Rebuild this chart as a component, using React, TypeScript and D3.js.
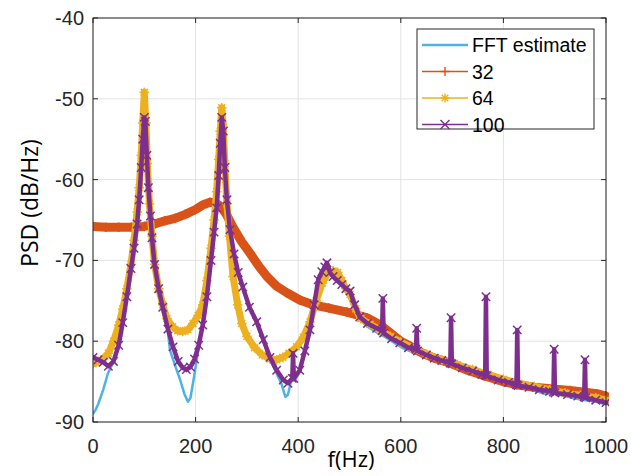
import React from 'react';
import * as d3 from 'd3';

const xTicks = [0, 200, 400, 600, 800, 1000];
const yTicks = [-90, -80, -70, -60, -50, -40];
const legendLabels = ['FFT estimate', '32', '64', '100'];

const fftFreq = [0, 5, 10, 20, 29, 38, 46, 58, 66, 74, 80, 86, 90, 94, 97, 100, 102, 105, 108, 112, 115, 120, 128, 136, 146, 150, 160, 170, 178, 185, 190, 197, 203, 210, 214, 222, 230, 236, 241, 245, 248, 251, 254, 257, 261, 267, 275, 283, 292, 305, 319, 332, 345, 358, 368, 375, 380, 386, 394, 403, 413, 423, 431, 439, 446, 456, 468, 485, 501, 520, 535, 553, 570, 590, 605, 620, 640, 660, 680, 700, 720, 740, 760, 780, 800, 820, 840, 860, 880, 900, 920, 940, 960, 980, 1000];
const fftPsd = [-89, -88.5, -87.8, -86, -84, -82.8, -81.5, -77.8, -74.6, -71.2, -68.6, -65.6, -62.6, -58.6, -55.2, -52.6, -53, -57.2, -61.2, -64.7, -67.3, -70.6, -73.7, -76, -78.8, -81.1, -83, -84.8, -86.5, -87.5, -87, -84.4, -82, -79.5, -78, -74.6, -70.1, -66.6, -63.6, -59.6, -55.6, -52.5, -54.2, -58.6, -62.6, -66.3, -69.3, -71.6, -73.4, -76, -77.8, -80, -82.3, -84, -85.4, -86.9, -86.6, -85, -84.8, -83.8, -81.4, -78.8, -75.7, -72.6, -71.6, -70.8, -72.2, -73.2, -74, -77.3, -78.2, -78.9, -79.5, -80.3, -80.9, -81.3, -81.8, -82.2, -82.8, -83.1, -83.6, -84, -84.5, -84.8, -85.2, -85.6, -85.8, -86.1, -86.5, -86.5, -86.8, -87.1, -87.3, -87.5, -87.8];

const ar32Freq = [0, 25, 50, 75, 100, 120, 140, 160, 180, 200, 215, 228, 240, 250, 260, 273, 290, 306, 322, 339, 358, 378, 403, 429, 460, 495, 534, 560, 580, 600, 618, 640, 665, 696, 730, 764, 800, 826, 860, 897, 930, 959, 982, 1000];
const ar32Psd = [-65.8, -65.9, -65.9, -65.9, -65.8, -65.5, -65.1, -64.8, -64.3, -63.7, -63.1, -62.8, -62.9, -63.4, -64.3, -65.9, -67.7, -69.1, -70.6, -72, -73.2, -74, -74.9, -75.5, -75.9, -76.4, -77.1, -78, -79, -80, -80.6, -81.4, -82.1, -82.7, -83.6, -84.3, -85, -85.4, -85.7, -85.9, -86.1, -86.3, -86.5, -86.8];

const ar64Freq = [0, 10, 20, 30, 40, 50, 58, 66, 74, 80, 86, 90, 94, 97, 100, 103, 106, 110, 115, 120, 128, 136, 144, 155, 165, 175, 185, 195, 205, 214, 222, 230, 236, 241, 245, 248, 251, 254, 257, 261, 266, 273, 282, 290, 300, 315, 330, 345, 358, 370, 382, 397, 410, 423, 435, 447, 458, 468, 477, 485, 493, 501, 512, 522, 540, 560, 580, 600, 625, 650, 680, 710, 740, 770, 800, 830, 860, 890, 920, 950, 980, 1000];
const ar64Psd = [-82.8, -82.5, -82.2, -81.5, -80, -78, -76, -73.5, -70.5, -67.5, -64, -61, -57, -53, -49.2, -53, -58, -63, -67, -70.5, -73.5, -75.5, -77.2, -78.2, -78.7, -78.8, -78.6, -77.8, -76.8, -75.5, -72.5, -68.5, -65, -61.5, -57.5, -54, -51.1, -53.5, -58, -63, -67, -72, -75.5, -77.8, -79.4, -80.8, -81.7, -82.2, -82.3, -82, -81.5, -80.7, -79.5, -77.6, -75, -72.8, -71.6, -71.3, -71.5, -72.5, -73.5, -74.2, -76, -77.2, -77.9, -78.6, -79.4, -80.1, -80.9, -81.6, -82.3, -82.9, -83.5, -84.1, -84.7, -85.2, -85.6, -86, -86.4, -86.7, -87, -87.3];

const ar100Freq = [0, 10, 20, 30, 40, 50, 58, 66, 74, 80, 86, 90, 94, 97, 100, 102, 105, 108, 112, 115, 120, 128, 136, 146, 156, 166, 175, 182, 190, 198, 206, 214, 222, 230, 236, 241, 245, 248, 251, 254, 257, 261, 267, 275, 283, 292, 305, 319, 332, 345, 358, 371, 380, 388.5, 390, 391.5, 403, 413, 423, 431, 439, 446, 452, 456, 462, 468, 476, 485, 493, 501, 510, 520, 535, 553, 563.5, 565, 566.5, 582, 598, 615, 629.5, 631, 632.5, 650, 665, 680, 696.5, 698, 699.5, 720, 740, 758, 764.5, 766, 767.5, 790, 810, 825.5, 827, 828.5, 850, 870, 890, 897.5, 899, 900.5, 925, 945, 957.5, 959, 960.5, 980, 1000];
const ar100Psd = [-82, -82.3, -82.6, -83.1, -82.5, -80.5, -77.7, -74.5, -71, -68.5, -65.5, -62.5, -58.5, -55, -52.3, -52.8, -57, -61, -64.5, -67.2, -70.5, -73.5, -75.8, -78.5, -80.7, -82.5, -83.3, -83.5, -83.2, -82.2, -80.5, -78, -74.5, -70, -66.5, -63.5, -59.5, -55.5, -52.3, -54, -58.5, -62.5, -66.2, -69.2, -71.5, -73.3, -75.8, -77.6, -79.8, -82, -83.6, -84.8, -85.2, -84.6, -81.5, -84.6, -83.6, -81.2, -78.6, -75.5, -72.4, -71.4, -70.8, -70.3, -71.5, -72, -72.5, -73, -73.5, -73.8, -75.5, -77, -77.8, -78.4, -78.7, -74.7, -79, -79.7, -80.2, -80.8, -81, -78.4, -81.2, -81.7, -82.1, -82.4, -82.7, -77.1, -82.8, -83.3, -83.7, -84.1, -84.2, -74.5, -84.3, -84.8, -85.1, -85.4, -78.6, -85.5, -85.7, -86, -86.2, -86.3, -81, -86.4, -86.6, -86.8, -86.9, -82.3, -87, -87.3, -87.6];

const colors = ['#4DB3E6', '#D95319', '#EDB120', '#7E2F8E'];

const X0 = 93, X1 = 606, Y0 = 18, Y1 = 422;
const xScale = d3.scaleLinear().domain([0, 1000]).range([X0, X1]);
const yScale = d3.scaleLinear().domain([-90, -40]).range([Y1, Y0]);

const toPts = (f: number[], p: number[]) => f.map((v, i) => [v, p[i]] as [number, number]);
const lineGen = d3.line<[number, number]>().x(d => xScale(d[0])).y(d => yScale(d[1]));

function marker(type: string, cx: number, cy: number, s: number, color: string, key: string | number, sw = 1.3) {
  const segs: [number, number, number, number][] = [];
  if (type === '+' || type === '*') {
    segs.push([cx - s, cy, cx + s, cy], [cx, cy - s, cx, cy + s]);
  }
  if (type === 'x' || type === '*') {
    const d = type === '*' ? s * 0.72 : s;
    segs.push([cx - d, cy - d, cx + d, cy + d], [cx - d, cy + d, cx + d, cy - d]);
  }
  return (
    <g key={key} stroke={color} strokeWidth={sw}>
      {segs.map((s2, i) => <line key={i} x1={s2[0]} y1={s2[1]} x2={s2[2]} y2={s2[3]} />)}
    </g>
  );
}

export default function App() {
  const series = [
    { pts: toPts(fftFreq, fftPsd), color: colors[0], width: 2.5, mk: '' },
    { pts: toPts(ar32Freq, ar32Psd), color: colors[1], width: 9, mk: '+' },
    { pts: toPts(ar64Freq, ar64Psd), color: colors[2], width: 7, mk: '*' },
    { pts: toPts(ar100Freq, ar100Psd), color: colors[3], width: 4.5, mk: 'x' },
  ];
  const font = '"Liberation Sans", Arial, sans-serif';
  const tickCol = '#262626';
  return (
    <svg width={631} height={476} style={{ position: 'absolute', left: 0, top: 0, background: '#fff' }}>
      <rect x={0} y={0} width={631} height={476} fill="#fff" />
      {xTicks.map(t => (
        <line key={'gx' + t} x1={xScale(t)} x2={xScale(t)} y1={Y0} y2={Y1} stroke="#e3e3e3" strokeWidth={1} />
      ))}
      {yTicks.map(t => (
        <line key={'gy' + t} x1={X0} x2={X1} y1={yScale(t)} y2={yScale(t)} stroke="#e3e3e3" strokeWidth={1} />
      ))}
      <defs>
        <clipPath id="plotclip">
          <rect x={X0} y={Y0} width={X1 - X0 + 3} height={Y1 - Y0} />
        </clipPath>
      </defs>
      <g clipPath="url(#plotclip)">
        {series.map((s, i) => (
          <g key={i}>
            <path d={lineGen(s.pts) || ''} fill="none" stroke={s.color} strokeWidth={s.width} strokeLinejoin="round" strokeLinecap="round" />
            {s.mk && s.pts.map((p, j) => marker(s.mk, xScale(p[0]), yScale(p[1]), s.mk === 'x' ? 4.2 : 4.8, s.color, j, 1.5))}
          </g>
        ))}
      </g>
      <rect x={X0} y={Y0} width={X1 - X0} height={Y1 - Y0} fill="none" stroke={tickCol} strokeWidth={1} />
      {xTicks.map(t => (
        <g key={'tx' + t}>
          <line x1={xScale(t)} x2={xScale(t)} y1={Y1} y2={Y1 - 5} stroke={tickCol} />
          <line x1={xScale(t)} x2={xScale(t)} y1={Y0} y2={Y0 + 5} stroke={tickCol} />
          <text x={xScale(t)} y={453} textAnchor="middle" fontFamily={font} fontSize={20} fill={tickCol}>{t}</text>
        </g>
      ))}
      {yTicks.map(t => (
        <g key={'ty' + t}>
          <line x1={X0} x2={X0 + 5} y1={yScale(t)} y2={yScale(t)} stroke={tickCol} />
          <line x1={X1} x2={X1 - 5} y1={yScale(t)} y2={yScale(t)} stroke={tickCol} />
          <text x={84} y={yScale(t) + 7} textAnchor="end" fontFamily={font} fontSize={20} fill={tickCol}>{t}</text>
        </g>
      ))}
      <text x={351} y={467} textAnchor="middle" fontFamily='"Open Sans", sans-serif' fontSize={22} fill="#000">f(Hz)</text>
      <text transform="translate(38,203) rotate(-90)" textAnchor="middle" fontFamily='"Open Sans", sans-serif' fontSize={23} fill="#000">PSD (dB/Hz)</text>
      <rect x={417} y={29} width={177} height={100} fill="#fff" stroke={tickCol} strokeWidth={1} />
      {legendLabels.map((lab, i) => {
        const y = 45 + i * 26.5;
        const mk = series[i].mk;
        return (
          <g key={'lg' + i}>
            <line x1={422} x2={468} y1={y} y2={y} stroke={colors[i]} strokeWidth={i === 0 ? 2.5 : 1.5} />
            {mk && marker(mk, 445, y, 4.5, colors[i], 'm' + i, 1.4)}
            <text x={472} y={y + 7} fontFamily={font} fontSize={19.5} fill="#000">{lab}</text>
          </g>
        );
      })}
    </svg>
  );
}
